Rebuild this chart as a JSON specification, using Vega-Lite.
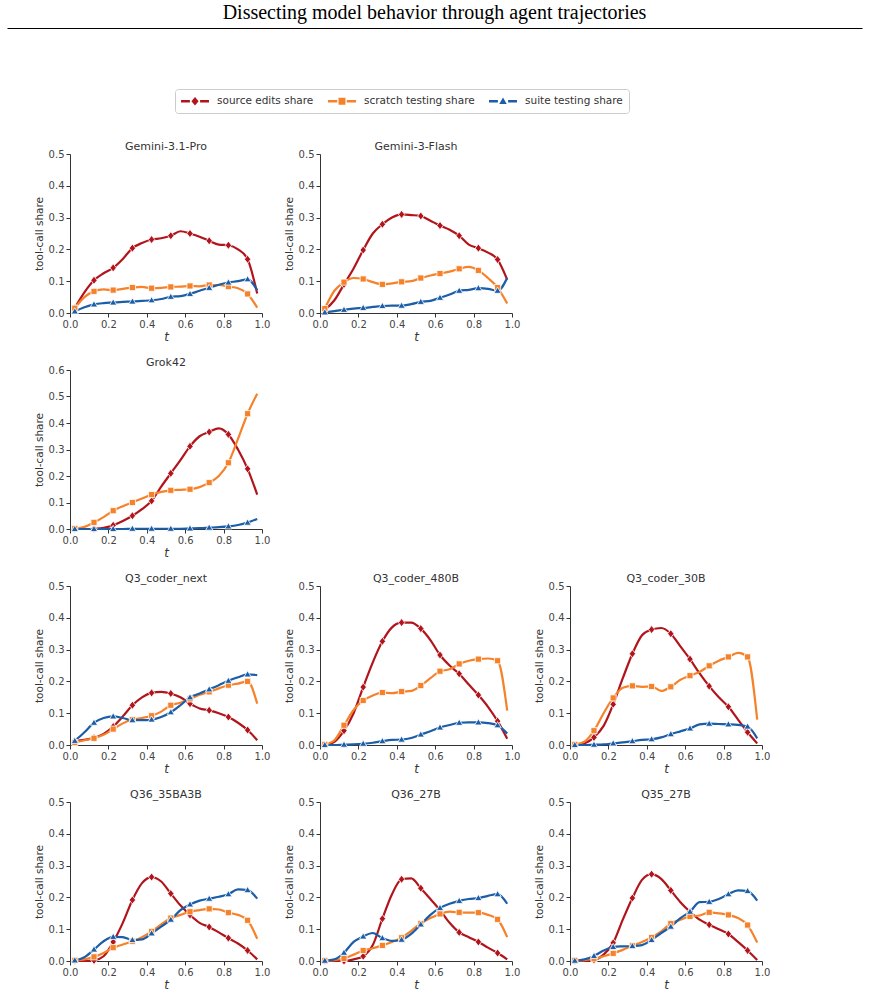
{
"$schema":"https://vega.github.io/schema/vega-lite/v6.json",
"padding":{"left":4,"top":2,"right":0,"bottom":0},
"spacing":110,
"resolve":{"scale":{"color":"shared"}},
"vconcat":[
{"width":792,"height":1,"title":{"text":"Dissecting model behavior through agent trajectories","font":"Liberation Serif","fontSize":20,"color":"#000","offset":2,"dx":-31.5},"data":{"values":[{"t":0},{"t":1}]},"mark":{"type":"point","opacity":0},"encoding":{"x":{"field":"t","type":"quantitative","scale":{"domain":[0,1],"range":[-63,792]},"axis":{"domainColor":"#000","domainWidth":1.2,"ticks":false,"labels":false,"title":null}}}},
{"columns":3,"bounds":"flush","spacing":{"row":57,"column":58},
"concat":[
{"title":"Gemini-3.1-Pro","width":192,"height":159,
"data":{"values":[
{"t":0.025,"source edits share":0.016,"scratch testing share":0.015,"suite testing share":0.005},
{"t":0.075,"source edits share":0.065,"scratch testing share":0.05,"suite testing share":0.018},
{"t":0.125,"source edits share":0.103,"scratch testing share":0.068,"suite testing share":0.027},
{"t":0.175,"source edits share":0.125,"scratch testing share":0.074,"suite testing share":0.031},
{"t":0.225,"source edits share":0.142,"scratch testing share":0.072,"suite testing share":0.033},
{"t":0.275,"source edits share":0.17,"scratch testing share":0.076,"suite testing share":0.035},
{"t":0.325,"source edits share":0.204,"scratch testing share":0.08,"suite testing share":0.036},
{"t":0.375,"source edits share":0.22,"scratch testing share":0.082,"suite testing share":0.038},
{"t":0.425,"source edits share":0.231,"scratch testing share":0.078,"suite testing share":0.04},
{"t":0.475,"source edits share":0.235,"scratch testing share":0.079,"suite testing share":0.044},
{"t":0.525,"source edits share":0.243,"scratch testing share":0.082,"suite testing share":0.051},
{"t":0.575,"source edits share":0.257,"scratch testing share":0.083,"suite testing share":0.053},
{"t":0.625,"source edits share":0.25,"scratch testing share":0.085,"suite testing share":0.06},
{"t":0.675,"source edits share":0.24,"scratch testing share":0.084,"suite testing share":0.07},
{"t":0.725,"source edits share":0.227,"scratch testing share":0.088,"suite testing share":0.079},
{"t":0.775,"source edits share":0.215,"scratch testing share":0.088,"suite testing share":0.089},
{"t":0.825,"source edits share":0.213,"scratch testing share":0.083,"suite testing share":0.096},
{"t":0.875,"source edits share":0.2,"scratch testing share":0.078,"suite testing share":0.1},
{"t":0.925,"source edits share":0.169,"scratch testing share":0.06,"suite testing share":0.106},
{"t":0.975,"source edits share":0.061,"scratch testing share":0.017,"suite testing share":0.072}]},
"transform":[{"fold":["source edits share","scratch testing share","suite testing share"],"as":["series","share"]}],
"encoding":{"x":{"field":"t","type":"quantitative","scale":{"domain":[0,1]},"axis":{"values":[0,0.2,0.4,0.6,0.8,1],"format":".1f"},"title":"t"},
"y":{"field":"share","type":"quantitative","scale":{"domain":[0,0.5]},"axis":{"values":[0,0.1,0.2,0.3,0.4,0.5],"format":".1f"},"title":"tool-call share"},
"color":{"field":"series","type":"nominal","scale":{"domain":["source edits share","scratch testing share","suite testing share"],"range":["#b2141c","#f5822a","#1b5da6"]},
"legend":{"title":null,"orient":"none","legendX":105,"legendY":62,"direction":"horizontal","padding":6,"strokeColor":"#cccccc","fillColor":"#ffffff","cornerRadius":3,"columnPadding":14,"symbolSize":144,"symbolOffset":8,"labelOffset":16,"labelFontSize":10.5,"labelColor":"#333333","symbolStrokeWidth":0,
"encode":{"symbols":{"update":{"shape":{"signal":"datum.value === 'source edits share' ? 'M-2.33,-0.22H-0.85V0.22H-2.33ZM0.85,-0.22H2.33V0.22H0.85ZM0,-0.72L0.6,0L0,0.72L-0.6,0Z' : datum.value === 'scratch testing share' ? 'M-2.33,-0.22H-0.8V0.22H-2.33ZM0.8,-0.22H2.33V0.22H0.8ZM-0.58,-0.58H0.58V0.58H-0.58Z' : 'M-2.33,-0.22H-0.85V0.22H-2.33ZM0.85,-0.22H2.33V0.22H0.85ZM0,-0.62L0.62,0.45H-0.62Z'"},"fill":{"scale":"color","field":"value"},"stroke":{"value":"transparent"},"opacity":{"value":1}}}}}}},
"layer":[{"mark":{"type":"line","interpolate":"monotone","strokeWidth":2.2}},
{"transform":[{"filter":"(round(datum.t*40)-1)%4==0 && datum.series=='source edits share'"}],"mark":{"type":"point","filled":true,"opacity":1,"size":72,"stroke":"white","strokeWidth":0.8,"shape":"M0,-0.95L0.75,0L0,0.95L-0.75,0Z"}},
{"transform":[{"filter":"(round(datum.t*40)-1)%4==0 && datum.series=='scratch testing share'"}],"mark":{"type":"point","filled":true,"opacity":1,"size":72,"stroke":"white","strokeWidth":0.8,"shape":"M-0.72,-0.72H0.72V0.72H-0.72Z"}},
{"transform":[{"filter":"(round(datum.t*40)-1)%4==0 && datum.series=='suite testing share'"}],"mark":{"type":"point","filled":true,"opacity":1,"size":72,"stroke":"white","strokeWidth":0.8,"shape":"M0,-0.85L0.85,0.6H-0.85Z"}}]},
{"title":"Gemini-3-Flash","width":192,"height":159,
"data":{"values":[
{"t":0.025,"source edits share":0.01,"scratch testing share":0.014,"suite testing share":0.002},
{"t":0.075,"source edits share":0.04,"scratch testing share":0.07,"suite testing share":0.006},
{"t":0.125,"source edits share":0.09,"scratch testing share":0.097,"suite testing share":0.01},
{"t":0.175,"source edits share":0.14,"scratch testing share":0.11,"suite testing share":0.014},
{"t":0.225,"source edits share":0.198,"scratch testing share":0.107,"suite testing share":0.016},
{"t":0.275,"source edits share":0.25,"scratch testing share":0.097,"suite testing share":0.019},
{"t":0.325,"source edits share":0.279,"scratch testing share":0.09,"suite testing share":0.022},
{"t":0.375,"source edits share":0.3,"scratch testing share":0.093,"suite testing share":0.023},
{"t":0.425,"source edits share":0.31,"scratch testing share":0.098,"suite testing share":0.023},
{"t":0.475,"source edits share":0.308,"scratch testing share":0.1,"suite testing share":0.028},
{"t":0.525,"source edits share":0.305,"scratch testing share":0.11,"suite testing share":0.035},
{"t":0.575,"source edits share":0.29,"scratch testing share":0.118,"suite testing share":0.038},
{"t":0.625,"source edits share":0.275,"scratch testing share":0.124,"suite testing share":0.048},
{"t":0.675,"source edits share":0.262,"scratch testing share":0.13,"suite testing share":0.058},
{"t":0.725,"source edits share":0.243,"scratch testing share":0.139,"suite testing share":0.07},
{"t":0.775,"source edits share":0.215,"scratch testing share":0.145,"suite testing share":0.073},
{"t":0.825,"source edits share":0.204,"scratch testing share":0.134,"suite testing share":0.078},
{"t":0.875,"source edits share":0.19,"scratch testing share":0.11,"suite testing share":0.076},
{"t":0.925,"source edits share":0.168,"scratch testing share":0.08,"suite testing share":0.07},
{"t":0.975,"source edits share":0.105,"scratch testing share":0.03,"suite testing share":0.11}]},
"transform":[{"fold":["source edits share","scratch testing share","suite testing share"],"as":["series","share"]}],
"encoding":{"x":{"field":"t","type":"quantitative","scale":{"domain":[0,1]},"axis":{"values":[0,0.2,0.4,0.6,0.8,1],"format":".1f"},"title":"t"},
"y":{"field":"share","type":"quantitative","scale":{"domain":[0,0.5]},"axis":{"values":[0,0.1,0.2,0.3,0.4,0.5],"format":".1f"},"title":"tool-call share"},
"color":{"field":"series","type":"nominal"}},
"layer":[{"mark":{"type":"line","interpolate":"monotone","strokeWidth":2.2}},
{"transform":[{"filter":"(round(datum.t*40)-1)%4==0 && datum.series=='source edits share'"}],"mark":{"type":"point","filled":true,"opacity":1,"size":72,"stroke":"white","strokeWidth":0.8,"shape":"M0,-0.95L0.75,0L0,0.95L-0.75,0Z"}},
{"transform":[{"filter":"(round(datum.t*40)-1)%4==0 && datum.series=='scratch testing share'"}],"mark":{"type":"point","filled":true,"opacity":1,"size":72,"stroke":"white","strokeWidth":0.8,"shape":"M-0.72,-0.72H0.72V0.72H-0.72Z"}},
{"transform":[{"filter":"(round(datum.t*40)-1)%4==0 && datum.series=='suite testing share'"}],"mark":{"type":"point","filled":true,"opacity":1,"size":72,"stroke":"white","strokeWidth":0.8,"shape":"M0,-0.85L0.85,0.6H-0.85Z"}}]},
{"width":192,"height":159,"data":{"values":[{"v":0},{"v":1}]},"mark":{"type":"point","opacity":0},"encoding":{"x":{"field":"v","type":"quantitative","axis":null}}},
{"title":"Grok42","width":192,"height":159,
"data":{"values":[
{"t":0.025,"source edits share":0,"scratch testing share":0.002,"suite testing share":0},
{"t":0.075,"source edits share":0,"scratch testing share":0.008,"suite testing share":0},
{"t":0.125,"source edits share":0.001,"scratch testing share":0.025,"suite testing share":0},
{"t":0.175,"source edits share":0.004,"scratch testing share":0.045,"suite testing share":0},
{"t":0.225,"source edits share":0.014,"scratch testing share":0.069,"suite testing share":0},
{"t":0.275,"source edits share":0.03,"scratch testing share":0.086,"suite testing share":0},
{"t":0.325,"source edits share":0.05,"scratch testing share":0.1,"suite testing share":0.001},
{"t":0.375,"source edits share":0.075,"scratch testing share":0.115,"suite testing share":0.001},
{"t":0.425,"source edits share":0.106,"scratch testing share":0.13,"suite testing share":0.001},
{"t":0.475,"source edits share":0.16,"scratch testing share":0.14,"suite testing share":0.001},
{"t":0.525,"source edits share":0.21,"scratch testing share":0.146,"suite testing share":0.001},
{"t":0.575,"source edits share":0.26,"scratch testing share":0.148,"suite testing share":0.001},
{"t":0.625,"source edits share":0.312,"scratch testing share":0.15,"suite testing share":0.002},
{"t":0.675,"source edits share":0.35,"scratch testing share":0.158,"suite testing share":0.003},
{"t":0.725,"source edits share":0.366,"scratch testing share":0.175,"suite testing share":0.005},
{"t":0.775,"source edits share":0.38,"scratch testing share":0.2,"suite testing share":0.007},
{"t":0.825,"source edits share":0.357,"scratch testing share":0.25,"suite testing share":0.01},
{"t":0.875,"source edits share":0.3,"scratch testing share":0.34,"suite testing share":0.015},
{"t":0.925,"source edits share":0.227,"scratch testing share":0.435,"suite testing share":0.024},
{"t":0.975,"source edits share":0.13,"scratch testing share":0.51,"suite testing share":0.038}]},
"transform":[{"fold":["source edits share","scratch testing share","suite testing share"],"as":["series","share"]}],
"encoding":{"x":{"field":"t","type":"quantitative","scale":{"domain":[0,1]},"axis":{"values":[0,0.2,0.4,0.6,0.8,1],"format":".1f"},"title":"t"},
"y":{"field":"share","type":"quantitative","scale":{"domain":[0,0.6]},"axis":{"values":[0,0.1,0.2,0.3,0.4,0.5,0.6],"format":".1f"},"title":"tool-call share"},
"color":{"field":"series","type":"nominal"}},
"layer":[{"mark":{"type":"line","interpolate":"monotone","strokeWidth":2.2}},
{"transform":[{"filter":"(round(datum.t*40)-1)%4==0 && datum.series=='source edits share'"}],"mark":{"type":"point","filled":true,"opacity":1,"size":72,"stroke":"white","strokeWidth":0.8,"shape":"M0,-0.95L0.75,0L0,0.95L-0.75,0Z"}},
{"transform":[{"filter":"(round(datum.t*40)-1)%4==0 && datum.series=='scratch testing share'"}],"mark":{"type":"point","filled":true,"opacity":1,"size":72,"stroke":"white","strokeWidth":0.8,"shape":"M-0.72,-0.72H0.72V0.72H-0.72Z"}},
{"transform":[{"filter":"(round(datum.t*40)-1)%4==0 && datum.series=='suite testing share'"}],"mark":{"type":"point","filled":true,"opacity":1,"size":72,"stroke":"white","strokeWidth":0.8,"shape":"M0,-0.85L0.85,0.6H-0.85Z"}}]},
{"width":192,"height":159,"data":{"values":[{"v":0},{"v":1}]},"mark":{"type":"point","opacity":0},"encoding":{"x":{"field":"v","type":"quantitative","axis":null}}},
{"width":192,"height":159,"data":{"values":[{"v":0},{"v":1}]},"mark":{"type":"point","opacity":0},"encoding":{"x":{"field":"v","type":"quantitative","axis":null}}},
{"title":"Q3_coder_next","width":192,"height":159,
"data":{"values":[
{"t":0.025,"source edits share":0.012,"scratch testing share":0.008,"suite testing share":0.013},
{"t":0.075,"source edits share":0.016,"scratch testing share":0.015,"suite testing share":0.04},
{"t":0.125,"source edits share":0.023,"scratch testing share":0.021,"suite testing share":0.07},
{"t":0.175,"source edits share":0.035,"scratch testing share":0.032,"suite testing share":0.085},
{"t":0.225,"source edits share":0.058,"scratch testing share":0.05,"suite testing share":0.09},
{"t":0.275,"source edits share":0.09,"scratch testing share":0.068,"suite testing share":0.085},
{"t":0.325,"source edits share":0.125,"scratch testing share":0.08,"suite testing share":0.078},
{"t":0.375,"source edits share":0.15,"scratch testing share":0.085,"suite testing share":0.078},
{"t":0.425,"source edits share":0.164,"scratch testing share":0.092,"suite testing share":0.08},
{"t":0.475,"source edits share":0.167,"scratch testing share":0.105,"suite testing share":0.088},
{"t":0.525,"source edits share":0.162,"scratch testing share":0.125,"suite testing share":0.103},
{"t":0.575,"source edits share":0.15,"scratch testing share":0.133,"suite testing share":0.125},
{"t":0.625,"source edits share":0.13,"scratch testing share":0.145,"suite testing share":0.15},
{"t":0.675,"source edits share":0.115,"scratch testing share":0.158,"suite testing share":0.162},
{"t":0.725,"source edits share":0.109,"scratch testing share":0.167,"suite testing share":0.175},
{"t":0.775,"source edits share":0.1,"scratch testing share":0.178,"suite testing share":0.188},
{"t":0.825,"source edits share":0.088,"scratch testing share":0.188,"suite testing share":0.202},
{"t":0.875,"source edits share":0.07,"scratch testing share":0.193,"suite testing share":0.213},
{"t":0.925,"source edits share":0.047,"scratch testing share":0.2,"suite testing share":0.222},
{"t":0.975,"source edits share":0.015,"scratch testing share":0.13,"suite testing share":0.22}]},
"transform":[{"fold":["source edits share","scratch testing share","suite testing share"],"as":["series","share"]}],
"encoding":{"x":{"field":"t","type":"quantitative","scale":{"domain":[0,1]},"axis":{"values":[0,0.2,0.4,0.6,0.8,1],"format":".1f"},"title":"t"},
"y":{"field":"share","type":"quantitative","scale":{"domain":[0,0.5]},"axis":{"values":[0,0.1,0.2,0.3,0.4,0.5],"format":".1f"},"title":"tool-call share"},
"color":{"field":"series","type":"nominal"}},
"layer":[{"mark":{"type":"line","interpolate":"monotone","strokeWidth":2.2}},
{"transform":[{"filter":"(round(datum.t*40)-1)%4==0 && datum.series=='source edits share'"}],"mark":{"type":"point","filled":true,"opacity":1,"size":72,"stroke":"white","strokeWidth":0.8,"shape":"M0,-0.95L0.75,0L0,0.95L-0.75,0Z"}},
{"transform":[{"filter":"(round(datum.t*40)-1)%4==0 && datum.series=='scratch testing share'"}],"mark":{"type":"point","filled":true,"opacity":1,"size":72,"stroke":"white","strokeWidth":0.8,"shape":"M-0.72,-0.72H0.72V0.72H-0.72Z"}},
{"transform":[{"filter":"(round(datum.t*40)-1)%4==0 && datum.series=='suite testing share'"}],"mark":{"type":"point","filled":true,"opacity":1,"size":72,"stroke":"white","strokeWidth":0.8,"shape":"M0,-0.85L0.85,0.6H-0.85Z"}}]},
{"title":"Q3_coder_480B","width":192,"height":159,
"data":{"values":[
{"t":0.025,"source edits share":0,"scratch testing share":0.002,"suite testing share":0},
{"t":0.075,"source edits share":0.01,"scratch testing share":0.015,"suite testing share":0},
{"t":0.125,"source edits share":0.045,"scratch testing share":0.062,"suite testing share":0.001},
{"t":0.175,"source edits share":0.1,"scratch testing share":0.11,"suite testing share":0.002},
{"t":0.225,"source edits share":0.182,"scratch testing share":0.14,"suite testing share":0.004},
{"t":0.275,"source edits share":0.26,"scratch testing share":0.156,"suite testing share":0.007},
{"t":0.325,"source edits share":0.326,"scratch testing share":0.165,"suite testing share":0.012},
{"t":0.375,"source edits share":0.37,"scratch testing share":0.163,"suite testing share":0.016},
{"t":0.425,"source edits share":0.385,"scratch testing share":0.168,"suite testing share":0.017},
{"t":0.475,"source edits share":0.385,"scratch testing share":0.17,"suite testing share":0.022},
{"t":0.525,"source edits share":0.366,"scratch testing share":0.187,"suite testing share":0.033},
{"t":0.575,"source edits share":0.33,"scratch testing share":0.21,"suite testing share":0.043},
{"t":0.625,"source edits share":0.283,"scratch testing share":0.232,"suite testing share":0.055},
{"t":0.675,"source edits share":0.25,"scratch testing share":0.238,"suite testing share":0.063},
{"t":0.725,"source edits share":0.224,"scratch testing share":0.255,"suite testing share":0.07},
{"t":0.775,"source edits share":0.19,"scratch testing share":0.265,"suite testing share":0.071},
{"t":0.825,"source edits share":0.157,"scratch testing share":0.27,"suite testing share":0.071},
{"t":0.875,"source edits share":0.12,"scratch testing share":0.272,"suite testing share":0.069},
{"t":0.925,"source edits share":0.075,"scratch testing share":0.265,"suite testing share":0.062},
{"t":0.975,"source edits share":0.02,"scratch testing share":0.108,"suite testing share":0.036}]},
"transform":[{"fold":["source edits share","scratch testing share","suite testing share"],"as":["series","share"]}],
"encoding":{"x":{"field":"t","type":"quantitative","scale":{"domain":[0,1]},"axis":{"values":[0,0.2,0.4,0.6,0.8,1],"format":".1f"},"title":"t"},
"y":{"field":"share","type":"quantitative","scale":{"domain":[0,0.5]},"axis":{"values":[0,0.1,0.2,0.3,0.4,0.5],"format":".1f"},"title":"tool-call share"},
"color":{"field":"series","type":"nominal"}},
"layer":[{"mark":{"type":"line","interpolate":"monotone","strokeWidth":2.2}},
{"transform":[{"filter":"(round(datum.t*40)-1)%4==0 && datum.series=='source edits share'"}],"mark":{"type":"point","filled":true,"opacity":1,"size":72,"stroke":"white","strokeWidth":0.8,"shape":"M0,-0.95L0.75,0L0,0.95L-0.75,0Z"}},
{"transform":[{"filter":"(round(datum.t*40)-1)%4==0 && datum.series=='scratch testing share'"}],"mark":{"type":"point","filled":true,"opacity":1,"size":72,"stroke":"white","strokeWidth":0.8,"shape":"M-0.72,-0.72H0.72V0.72H-0.72Z"}},
{"transform":[{"filter":"(round(datum.t*40)-1)%4==0 && datum.series=='suite testing share'"}],"mark":{"type":"point","filled":true,"opacity":1,"size":72,"stroke":"white","strokeWidth":0.8,"shape":"M0,-0.85L0.85,0.6H-0.85Z"}}]},
{"title":"Q3_coder_30B","width":192,"height":159,
"data":{"values":[
{"t":0.025,"source edits share":0,"scratch testing share":0.002,"suite testing share":0},
{"t":0.075,"source edits share":0.005,"scratch testing share":0.01,"suite testing share":0},
{"t":0.125,"source edits share":0.024,"scratch testing share":0.045,"suite testing share":0.001},
{"t":0.175,"source edits share":0.06,"scratch testing share":0.1,"suite testing share":0.002},
{"t":0.225,"source edits share":0.128,"scratch testing share":0.148,"suite testing share":0.005},
{"t":0.275,"source edits share":0.21,"scratch testing share":0.18,"suite testing share":0.008},
{"t":0.325,"source edits share":0.287,"scratch testing share":0.186,"suite testing share":0.012},
{"t":0.375,"source edits share":0.345,"scratch testing share":0.183,"suite testing share":0.016},
{"t":0.425,"source edits share":0.363,"scratch testing share":0.184,"suite testing share":0.018},
{"t":0.475,"source edits share":0.368,"scratch testing share":0.17,"suite testing share":0.024},
{"t":0.525,"source edits share":0.35,"scratch testing share":0.183,"suite testing share":0.034},
{"t":0.575,"source edits share":0.31,"scratch testing share":0.205,"suite testing share":0.043},
{"t":0.625,"source edits share":0.27,"scratch testing share":0.218,"suite testing share":0.052},
{"t":0.675,"source edits share":0.225,"scratch testing share":0.23,"suite testing share":0.065},
{"t":0.725,"source edits share":0.185,"scratch testing share":0.249,"suite testing share":0.067},
{"t":0.775,"source edits share":0.15,"scratch testing share":0.265,"suite testing share":0.066},
{"t":0.825,"source edits share":0.12,"scratch testing share":0.277,"suite testing share":0.065},
{"t":0.875,"source edits share":0.08,"scratch testing share":0.29,"suite testing share":0.063},
{"t":0.925,"source edits share":0.04,"scratch testing share":0.277,"suite testing share":0.058},
{"t":0.975,"source edits share":0.005,"scratch testing share":0.08,"suite testing share":0.021}]},
"transform":[{"fold":["source edits share","scratch testing share","suite testing share"],"as":["series","share"]}],
"encoding":{"x":{"field":"t","type":"quantitative","scale":{"domain":[0,1]},"axis":{"values":[0,0.2,0.4,0.6,0.8,1],"format":".1f"},"title":"t"},
"y":{"field":"share","type":"quantitative","scale":{"domain":[0,0.5]},"axis":{"values":[0,0.1,0.2,0.3,0.4,0.5],"format":".1f"},"title":"tool-call share"},
"color":{"field":"series","type":"nominal"}},
"layer":[{"mark":{"type":"line","interpolate":"monotone","strokeWidth":2.2}},
{"transform":[{"filter":"(round(datum.t*40)-1)%4==0 && datum.series=='source edits share'"}],"mark":{"type":"point","filled":true,"opacity":1,"size":72,"stroke":"white","strokeWidth":0.8,"shape":"M0,-0.95L0.75,0L0,0.95L-0.75,0Z"}},
{"transform":[{"filter":"(round(datum.t*40)-1)%4==0 && datum.series=='scratch testing share'"}],"mark":{"type":"point","filled":true,"opacity":1,"size":72,"stroke":"white","strokeWidth":0.8,"shape":"M-0.72,-0.72H0.72V0.72H-0.72Z"}},
{"transform":[{"filter":"(round(datum.t*40)-1)%4==0 && datum.series=='suite testing share'"}],"mark":{"type":"point","filled":true,"opacity":1,"size":72,"stroke":"white","strokeWidth":0.8,"shape":"M0,-0.85L0.85,0.6H-0.85Z"}}]},
{"title":"Q36_35BA3B","width":192,"height":159,
"data":{"values":[
{"t":0.025,"source edits share":0,"scratch testing share":0.002,"suite testing share":0.002},
{"t":0.075,"source edits share":0,"scratch testing share":0.005,"suite testing share":0.012},
{"t":0.125,"source edits share":0.002,"scratch testing share":0.013,"suite testing share":0.036},
{"t":0.175,"source edits share":0.015,"scratch testing share":0.025,"suite testing share":0.062},
{"t":0.225,"source edits share":0.06,"scratch testing share":0.042,"suite testing share":0.076},
{"t":0.275,"source edits share":0.12,"scratch testing share":0.052,"suite testing share":0.075},
{"t":0.325,"source edits share":0.192,"scratch testing share":0.062,"suite testing share":0.066},
{"t":0.375,"source edits share":0.245,"scratch testing share":0.075,"suite testing share":0.068},
{"t":0.425,"source edits share":0.264,"scratch testing share":0.093,"suite testing share":0.087},
{"t":0.475,"source edits share":0.25,"scratch testing share":0.115,"suite testing share":0.108},
{"t":0.525,"source edits share":0.212,"scratch testing share":0.135,"suite testing share":0.13},
{"t":0.575,"source edits share":0.175,"scratch testing share":0.145,"suite testing share":0.16},
{"t":0.625,"source edits share":0.145,"scratch testing share":0.155,"suite testing share":0.178},
{"t":0.675,"source edits share":0.12,"scratch testing share":0.16,"suite testing share":0.19},
{"t":0.725,"source edits share":0.107,"scratch testing share":0.164,"suite testing share":0.196},
{"t":0.775,"source edits share":0.09,"scratch testing share":0.162,"suite testing share":0.202},
{"t":0.825,"source edits share":0.072,"scratch testing share":0.152,"suite testing share":0.21},
{"t":0.875,"source edits share":0.055,"scratch testing share":0.145,"suite testing share":0.225},
{"t":0.925,"source edits share":0.033,"scratch testing share":0.128,"suite testing share":0.223},
{"t":0.975,"source edits share":0.005,"scratch testing share":0.07,"suite testing share":0.196}]},
"transform":[{"fold":["source edits share","scratch testing share","suite testing share"],"as":["series","share"]}],
"encoding":{"x":{"field":"t","type":"quantitative","scale":{"domain":[0,1]},"axis":{"values":[0,0.2,0.4,0.6,0.8,1],"format":".1f"},"title":"t"},
"y":{"field":"share","type":"quantitative","scale":{"domain":[0,0.5]},"axis":{"values":[0,0.1,0.2,0.3,0.4,0.5],"format":".1f"},"title":"tool-call share"},
"color":{"field":"series","type":"nominal"}},
"layer":[{"mark":{"type":"line","interpolate":"monotone","strokeWidth":2.2}},
{"transform":[{"filter":"(round(datum.t*40)-1)%4==0 && datum.series=='source edits share'"}],"mark":{"type":"point","filled":true,"opacity":1,"size":72,"stroke":"white","strokeWidth":0.8,"shape":"M0,-0.95L0.75,0L0,0.95L-0.75,0Z"}},
{"transform":[{"filter":"(round(datum.t*40)-1)%4==0 && datum.series=='scratch testing share'"}],"mark":{"type":"point","filled":true,"opacity":1,"size":72,"stroke":"white","strokeWidth":0.8,"shape":"M-0.72,-0.72H0.72V0.72H-0.72Z"}},
{"transform":[{"filter":"(round(datum.t*40)-1)%4==0 && datum.series=='suite testing share'"}],"mark":{"type":"point","filled":true,"opacity":1,"size":72,"stroke":"white","strokeWidth":0.8,"shape":"M0,-0.85L0.85,0.6H-0.85Z"}}]},
{"title":"Q36_27B","width":192,"height":159,
"data":{"values":[
{"t":0.025,"source edits share":0,"scratch testing share":0.001,"suite testing share":0.001},
{"t":0.075,"source edits share":0,"scratch testing share":0.003,"suite testing share":0.005},
{"t":0.125,"source edits share":0,"scratch testing share":0.008,"suite testing share":0.026},
{"t":0.175,"source edits share":0.005,"scratch testing share":0.02,"suite testing share":0.06},
{"t":0.225,"source edits share":0.015,"scratch testing share":0.033,"suite testing share":0.077},
{"t":0.275,"source edits share":0.05,"scratch testing share":0.04,"suite testing share":0.088},
{"t":0.325,"source edits share":0.133,"scratch testing share":0.049,"suite testing share":0.072},
{"t":0.375,"source edits share":0.21,"scratch testing share":0.06,"suite testing share":0.063},
{"t":0.425,"source edits share":0.257,"scratch testing share":0.073,"suite testing share":0.067},
{"t":0.475,"source edits share":0.26,"scratch testing share":0.095,"suite testing share":0.085},
{"t":0.525,"source edits share":0.229,"scratch testing share":0.118,"suite testing share":0.115},
{"t":0.575,"source edits share":0.195,"scratch testing share":0.135,"suite testing share":0.145},
{"t":0.625,"source edits share":0.16,"scratch testing share":0.148,"suite testing share":0.167},
{"t":0.675,"source edits share":0.12,"scratch testing share":0.155,"suite testing share":0.18},
{"t":0.725,"source edits share":0.09,"scratch testing share":0.153,"suite testing share":0.189},
{"t":0.775,"source edits share":0.075,"scratch testing share":0.152,"suite testing share":0.195},
{"t":0.825,"source edits share":0.06,"scratch testing share":0.152,"suite testing share":0.198},
{"t":0.875,"source edits share":0.042,"scratch testing share":0.145,"suite testing share":0.205},
{"t":0.925,"source edits share":0.025,"scratch testing share":0.131,"suite testing share":0.21},
{"t":0.975,"source edits share":0.005,"scratch testing share":0.075,"suite testing share":0.18}]},
"transform":[{"fold":["source edits share","scratch testing share","suite testing share"],"as":["series","share"]}],
"encoding":{"x":{"field":"t","type":"quantitative","scale":{"domain":[0,1]},"axis":{"values":[0,0.2,0.4,0.6,0.8,1],"format":".1f"},"title":"t"},
"y":{"field":"share","type":"quantitative","scale":{"domain":[0,0.5]},"axis":{"values":[0,0.1,0.2,0.3,0.4,0.5],"format":".1f"},"title":"tool-call share"},
"color":{"field":"series","type":"nominal"}},
"layer":[{"mark":{"type":"line","interpolate":"monotone","strokeWidth":2.2}},
{"transform":[{"filter":"(round(datum.t*40)-1)%4==0 && datum.series=='source edits share'"}],"mark":{"type":"point","filled":true,"opacity":1,"size":72,"stroke":"white","strokeWidth":0.8,"shape":"M0,-0.95L0.75,0L0,0.95L-0.75,0Z"}},
{"transform":[{"filter":"(round(datum.t*40)-1)%4==0 && datum.series=='scratch testing share'"}],"mark":{"type":"point","filled":true,"opacity":1,"size":72,"stroke":"white","strokeWidth":0.8,"shape":"M-0.72,-0.72H0.72V0.72H-0.72Z"}},
{"transform":[{"filter":"(round(datum.t*40)-1)%4==0 && datum.series=='suite testing share'"}],"mark":{"type":"point","filled":true,"opacity":1,"size":72,"stroke":"white","strokeWidth":0.8,"shape":"M0,-0.85L0.85,0.6H-0.85Z"}}]},
{"title":"Q35_27B","width":192,"height":159,
"data":{"values":[
{"t":0.025,"source edits share":0,"scratch testing share":0.002,"suite testing share":0.001},
{"t":0.075,"source edits share":0,"scratch testing share":0.003,"suite testing share":0.005},
{"t":0.125,"source edits share":0.003,"scratch testing share":0.007,"suite testing share":0.016},
{"t":0.175,"source edits share":0.02,"scratch testing share":0.015,"suite testing share":0.033},
{"t":0.225,"source edits share":0.057,"scratch testing share":0.024,"suite testing share":0.044},
{"t":0.275,"source edits share":0.13,"scratch testing share":0.035,"suite testing share":0.046},
{"t":0.325,"source edits share":0.198,"scratch testing share":0.048,"suite testing share":0.047},
{"t":0.375,"source edits share":0.255,"scratch testing share":0.06,"suite testing share":0.05},
{"t":0.425,"source edits share":0.273,"scratch testing share":0.074,"suite testing share":0.066},
{"t":0.475,"source edits share":0.258,"scratch testing share":0.093,"suite testing share":0.088},
{"t":0.525,"source edits share":0.222,"scratch testing share":0.118,"suite testing share":0.108},
{"t":0.575,"source edits share":0.185,"scratch testing share":0.13,"suite testing share":0.135},
{"t":0.625,"source edits share":0.155,"scratch testing share":0.14,"suite testing share":0.155},
{"t":0.675,"source edits share":0.13,"scratch testing share":0.143,"suite testing share":0.185},
{"t":0.725,"source edits share":0.114,"scratch testing share":0.153,"suite testing share":0.186},
{"t":0.775,"source edits share":0.1,"scratch testing share":0.15,"suite testing share":0.195},
{"t":0.825,"source edits share":0.085,"scratch testing share":0.145,"suite testing share":0.21},
{"t":0.875,"source edits share":0.06,"scratch testing share":0.135,"suite testing share":0.222},
{"t":0.925,"source edits share":0.033,"scratch testing share":0.113,"suite testing share":0.22},
{"t":0.975,"source edits share":0.003,"scratch testing share":0.058,"suite testing share":0.19}]},
"transform":[{"fold":["source edits share","scratch testing share","suite testing share"],"as":["series","share"]}],
"encoding":{"x":{"field":"t","type":"quantitative","scale":{"domain":[0,1]},"axis":{"values":[0,0.2,0.4,0.6,0.8,1],"format":".1f"},"title":"t"},
"y":{"field":"share","type":"quantitative","scale":{"domain":[0,0.5]},"axis":{"values":[0,0.1,0.2,0.3,0.4,0.5],"format":".1f"},"title":"tool-call share"},
"color":{"field":"series","type":"nominal"}},
"layer":[{"mark":{"type":"line","interpolate":"monotone","strokeWidth":2.2}},
{"transform":[{"filter":"(round(datum.t*40)-1)%4==0 && datum.series=='source edits share'"}],"mark":{"type":"point","filled":true,"opacity":1,"size":72,"stroke":"white","strokeWidth":0.8,"shape":"M0,-0.95L0.75,0L0,0.95L-0.75,0Z"}},
{"transform":[{"filter":"(round(datum.t*40)-1)%4==0 && datum.series=='scratch testing share'"}],"mark":{"type":"point","filled":true,"opacity":1,"size":72,"stroke":"white","strokeWidth":0.8,"shape":"M-0.72,-0.72H0.72V0.72H-0.72Z"}},
{"transform":[{"filter":"(round(datum.t*40)-1)%4==0 && datum.series=='suite testing share'"}],"mark":{"type":"point","filled":true,"opacity":1,"size":72,"stroke":"white","strokeWidth":0.8,"shape":"M0,-0.85L0.85,0.6H-0.85Z"}}]}
]}
],
"config":{
"font":"DejaVu Sans",
"view":{"stroke":null},
"title":{"fontSize":11,"fontWeight":"normal","color":"#333333","offset":-3,"font":"DejaVu Sans"},
"axis":{"grid":false,"domainColor":"#333333","tickColor":"#333333","labelColor":"#444444","titleColor":"#333333","labelFontSize":10,"titleFontSize":10.5,"titleFontWeight":"normal","tickSize":4,"labelPadding":2,"labelFlush":false,"labelOverlap":false},
"axisX":{"titleFontStyle":"italic","titlePadding":2,"titleFontSize":12},
"axisY":{"titlePadding":4}
}
}
